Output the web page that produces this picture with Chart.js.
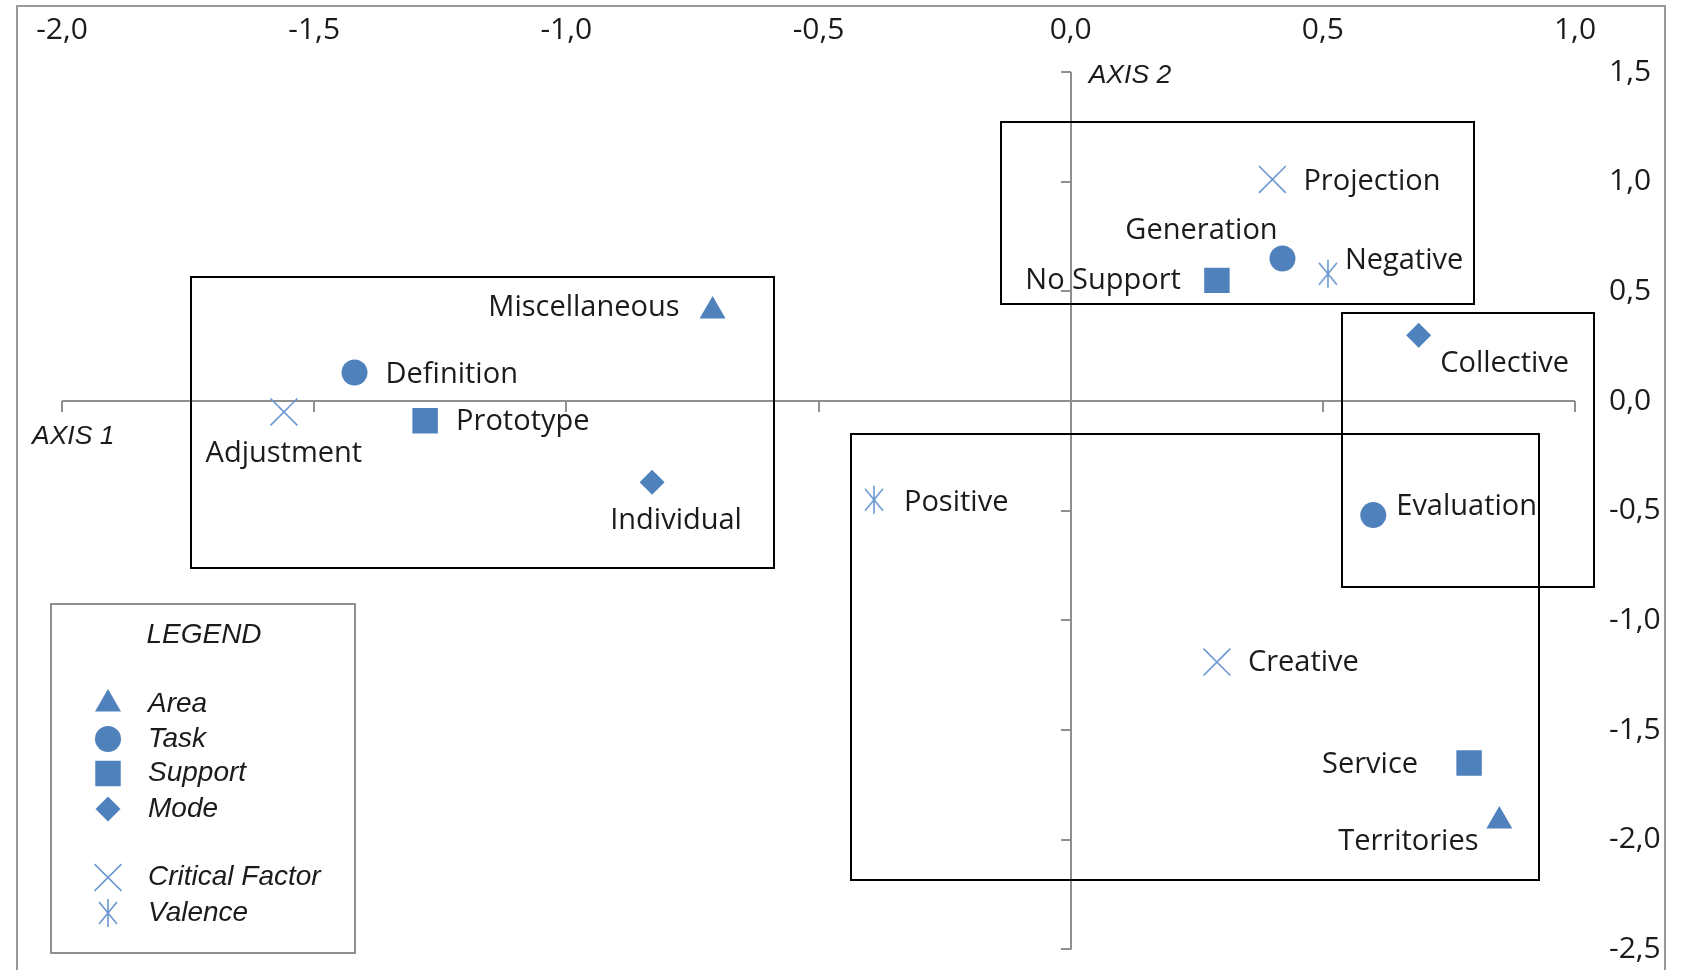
<!DOCTYPE html>
<html>
<head>
<meta charset="utf-8">
<script src="https://cdn.jsdelivr.net/npm/chart.js@4.4.1/dist/chart.umd.min.js"></script>
<style>
  html, body { margin: 0; padding: 0; background: #fff; overflow: hidden; }
  #frame { position: absolute; left: 16px; top: 5px; width: 1650px; height: 1000px;
           border: 2px solid #9a9a9a; box-sizing: border-box; }
  #chart { position: absolute; left: 0; top: 0; }
</style>
</head>
<body>
<div id="frame"></div>
<canvas id="chart" width="1682" height="970"></canvas>
<script>
// ---- data ----
const areaNames = ['Miscellaneous', 'Territories'];
const areaX = [-0.71, 0.85];
const areaY = [0.41, -1.915];

const taskNames = ['Definition', 'Generation', 'Evaluation'];
const taskX = [-1.42, 0.42, 0.60];
const taskY = [0.13, 0.65, -0.52];

const supportNames = ['Prototype', 'No Support', 'Service'];
const supportX = [-1.28, 0.29, 0.79];
const supportY = [-0.09, 0.55, -1.65];

const modeNames = ['Individual', 'Collective'];
const modeX = [-0.83, 0.69];
const modeY = [-0.37, 0.30];

const factorNames = ['Adjustment', 'Projection', 'Creative'];
const factorX = [-1.56, 0.40, 0.29];
const factorY = [-0.05, 1.01, -1.19];

const valenceNames = ['Negative', 'Positive'];
const valenceX = [0.51, -0.39];
const valenceY = [0.58, -0.45];

// cluster boxes (axis units)
const boxLeft   = [-1.745, -0.138, 0.538, -0.436];
const boxRight  = [-0.589, 0.799, 1.037, 0.929];
const boxTop    = [0.566, 1.270, 0.400, -0.151];
const boxBottom = [-0.762, 0.444, -0.850, -2.183];

const xMin = -2.0, xMax = 1.0, yMin = -2.5, yMax = 1.5, step = 0.5;

// label placement: [textAlign, dx, dy] in px from the marker
const labelPlace = {
  'Miscellaneous': ['right', -33, -3],
  'Definition': ['left', 31, 2],
  'Adjustment': ['center', 0, 42],
  'Prototype': ['left', 31, 1],
  'Individual': ['center', 24, 39],
  'Projection': ['left', 31, 2],
  'Generation': ['center', -81, -28],
  'Negative': ['left', 17, -13],
  'No Support': ['right', -36, 0],
  'Collective': ['center', 86, 29],
  'Positive': ['left', 30, 3],
  'Evaluation': ['left', 23, -8],
  'Creative': ['left', 31, 1],
  'Service': ['right', -51, 2],
  'Territories': ['center', -91, 21]
};

const BLUE = '#4f81bd';
const LIGHT = '#6b98d2';
const TEXT = '#1b1b1b';
const AXIS = '#8f8f8f';

// Excel style "star" marker: an X with a vertical stroke
function makeStar() {
  const c = document.createElement('canvas');
  c.width = 26; c.height = 30;
  const g = c.getContext('2d');
  g.strokeStyle = LIGHT;
  g.lineWidth = 1.6;
  g.beginPath();
  g.moveTo(4, 4); g.lineTo(22, 26);
  g.moveTo(22, 4); g.lineTo(4, 26);
  g.moveTo(13, 1); g.lineTo(13, 29);
  g.stroke();
  return c;
}
const starImg = makeStar();

function pts(xs, ys) {
  return xs.map((x, i) => ({ x: x, y: ys[i] }));
}

const groups = [
  { label: 'Area', names: areaNames, data: pts(areaX, areaY), pointStyle: 'triangle', radius: 15, fill: BLUE, line: BLUE, bw: 0 },
  { label: 'Task', names: taskNames, data: pts(taskX, taskY), pointStyle: 'circle', radius: 13, fill: BLUE, line: BLUE, bw: 0 },
  { label: 'Support', names: supportNames, data: pts(supportX, supportY), pointStyle: 'rect', radius: 18, fill: BLUE, line: BLUE, bw: 0 },
  { label: 'Mode', names: modeNames, data: pts(modeX, modeY), pointStyle: 'rectRot', radius: 12.5, fill: BLUE, line: BLUE, bw: 0 },
  { label: 'Critical Factor', names: factorNames, data: pts(factorX, factorY), pointStyle: 'crossRot', radius: 19, fill: LIGHT, line: LIGHT, bw: 1.6 },
  { label: 'Valence', names: valenceNames, data: pts(valenceX, valenceY), pointStyle: starImg, radius: 14, fill: LIGHT, line: LIGHT, bw: 1.6 }
];

const fmt = v => v.toFixed(1).replace('.', ',').replace('-0,0', '0,0');

// axes crossing at the origin + cluster boxes, behind the markers
const crossAxes = {
  id: 'crossAxes',
  beforeDatasetsDraw(chart) {
    const { ctx, scales: { x, y } } = chart;
    const x0 = Math.round(x.getPixelForValue(0));
    const y0 = Math.round(y.getPixelForValue(0));
    ctx.save();
    ctx.strokeStyle = AXIS;
    ctx.lineWidth = 2;
    ctx.beginPath();
    ctx.moveTo(x.getPixelForValue(xMin), y0);
    ctx.lineTo(x.getPixelForValue(xMax), y0);
    x.ticks.forEach(t => {
      const px = Math.round(x.getPixelForValue(t.value));
      ctx.moveTo(px, y0);
      ctx.lineTo(px, y0 + 11);
    });
    ctx.moveTo(x0, y.getPixelForValue(yMax));
    ctx.lineTo(x0, y.getPixelForValue(yMin));
    y.ticks.forEach(t => {
      const py = Math.round(y.getPixelForValue(t.value));
      ctx.moveTo(x0, py);
      ctx.lineTo(x0 - 10, py);
    });
    ctx.stroke();

    ctx.strokeStyle = '#000';
    ctx.lineWidth = 2;
    boxLeft.forEach((l, i) => {
      const x1 = Math.round(x.getPixelForValue(l));
      const x2 = Math.round(x.getPixelForValue(boxRight[i]));
      const y1 = Math.round(y.getPixelForValue(boxTop[i]));
      const y2 = Math.round(y.getPixelForValue(boxBottom[i]));
      ctx.strokeRect(x1, y1, x2 - x1, y2 - y1);
    });
    ctx.restore();
  }
};

// point names, axis titles, legend
const textPlugin = {
  id: 'texts',
  afterDatasetsDraw(chart) {
    const ctx = chart.ctx;
    ctx.save();
    ctx.fillStyle = TEXT;
    ctx.textBaseline = 'middle';
    ctx.font = '29px "Open Sans"';
    chart.data.datasets.forEach((ds, di) => {
      const meta = chart.getDatasetMeta(di);
      meta.data.forEach((el, i) => {
        const name = ds.names[i];
        const p = labelPlace[name];
        ctx.textAlign = p[0];
        ctx.fillText(name, el.x + p[1], el.y + p[2]);
      });
    });

    // axis titles
    const { x, y } = chart.scales;
    ctx.font = 'italic 26.5px "Liberation Sans"';
    ctx.textAlign = 'left';
    ctx.fillText('AXIS 1', 32, y.getPixelForValue(0) + 36);
    ctx.fillText('AXIS 2', x.getPixelForValue(0) + 18, y.getPixelForValue(yMax) + 4);

    // legend box
    ctx.strokeStyle = AXIS;
    ctx.lineWidth = 2;
    ctx.strokeRect(51, 604, 304, 349);
    ctx.font = 'italic 28px "Liberation Sans"';
    ctx.textAlign = 'center';
    ctx.fillText('LEGEND', 204, 635);
    const rows = [704, 739, 773.5, 809, 877.5, 913];
    chart.data.datasets.forEach((ds, di) => {
      const ry = rows[di];
      ctx.fillStyle = ds.pointBackgroundColor;
      ctx.strokeStyle = ds.pointBorderColor;
      ctx.lineWidth = ds.pointBorderWidth;
      Chart.helpers.drawPoint(ctx, {
        pointStyle: ds.pointStyle,
        radius: ds.pointRadius,
        borderWidth: ds.pointBorderWidth,
        rotation: 0
      }, 108, ry);
      ctx.fillStyle = TEXT;
      ctx.textAlign = 'left';
      ctx.fillText(ds.label, 148, ry);
    });
    ctx.restore();
  }
};

new Chart(document.getElementById('chart'), {
  type: 'scatter',
  data: {
    datasets: groups.map(g => ({
      label: g.label,
      names: g.names,
      data: g.data,
      pointStyle: g.pointStyle,
      pointRadius: g.radius,
      pointHoverRadius: g.radius,
      pointBackgroundColor: g.fill,
      pointBorderColor: g.line,
      pointBorderWidth: g.bw,
      showLine: false
    }))
  },
  options: {
    responsive: false,
    animation: false,
    events: [],
    layout: { padding: { left: 62, right: 0, top: 0, bottom: 20 } },
    plugins: { legend: { display: false }, tooltip: { enabled: false } },
    scales: {
      x: {
        type: 'linear', position: 'top', min: xMin, max: xMax,
        // hidden tick marks keep the labels off the plot edge
        grid: { display: false, drawTicks: true, tickLength: 24 },
        border: { display: false },
        ticks: { stepSize: step, padding: 0, color: TEXT, font: { family: 'Open Sans', size: 30 }, callback: fmt, maxRotation: 0 },
        afterFit(s) { s.height = 72; }
      },
      y: {
        type: 'linear', position: 'right', min: yMin, max: yMax,
        grid: { display: false, drawTicks: true, tickLength: 34 },
        border: { display: false },
        ticks: { stepSize: step, padding: 0, color: TEXT, font: { family: 'Open Sans', size: 30 }, callback: fmt },
        afterFit(s) { s.width = 107; }
      }
    }
  },
  plugins: [crossAxes, textPlugin]
});
</script>
</body>
</html>
